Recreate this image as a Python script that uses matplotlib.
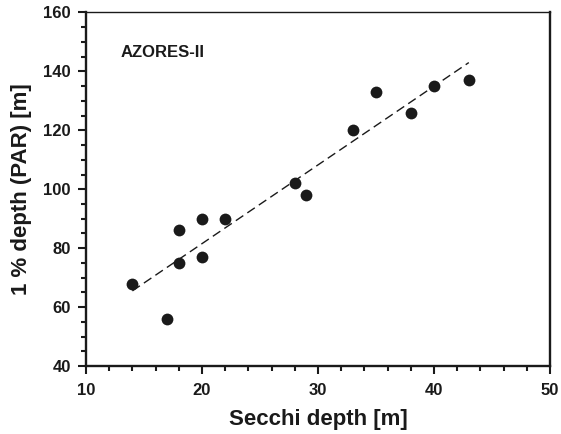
import matplotlib
matplotlib.use("Agg")
import matplotlib.pyplot as plt
from matplotlib.ticker import MultipleLocator

plt.rcParams['font.family'] = ['Liberation Sans', 'DejaVu Sans']
plt.rcParams['font.weight'] = 'bold'

secchi = [14, 17, 18, 18, 20, 20, 22, 28, 29, 33, 35, 38, 40, 43]
depth_1pct = [68, 56, 75, 86, 77, 90, 90, 102, 98, 120, 133, 126, 135, 137]
fit_x = [14, 43]
fit_y = [65.5, 143]
label = "AZORES-II"

C = '#1a1a1a'
fig = plt.figure(figsize=(5.61, 4.34), dpi=100)
ax = fig.add_axes([0.1533, 0.1567, 0.9804 - 0.1533, 0.9712 - 0.1567])

ax.plot(fit_x, fit_y, color=C, lw=1.0, dashes=(6.5, 3.5))
ax.plot(secchi, depth_1pct, 'o', color=C, markersize=8.5, markeredgewidth=0)

ax.set_xlim(10, 50)
ax.set_ylim(40, 160)
ax.xaxis.set_major_locator(MultipleLocator(10))
ax.xaxis.set_minor_locator(MultipleLocator(2))
ax.yaxis.set_major_locator(MultipleLocator(20))
ax.yaxis.set_minor_locator(MultipleLocator(5))

ax.tick_params(which='both', direction='out', top=False, right=False,
               width=1.5, color=C, labelcolor=C, labelsize=12)
ax.tick_params(which='major', length=5.5)
ax.tick_params(which='minor', length=3.5)
ax.tick_params(axis='x', which='major', pad=7)
ax.tick_params(axis='y', which='major', pad=5.5)
for lab in ax.get_xticklabels() + ax.get_yticklabels():
    lab.set_fontweight('bold')

for s in ['left', 'bottom', 'right']:
    ax.spines[s].set_linewidth(1.7)
    ax.spines[s].set_color(C)
ax.spines['top'].set_linewidth(1.0)
ax.spines['top'].set_color(C)

ax.set_xlabel('Secchi depth [m]', fontsize=16, fontweight='bold', color=C, labelpad=8)
ax.set_ylabel('1 % depth (PAR) [m]', fontsize=16, fontweight='bold', color=C, labelpad=8)

ax.text(13.0, 146.4, label, fontsize=12, fontweight='bold', color=C, va='center', ha='left')

fig.savefig('out.png', dpi=100)
